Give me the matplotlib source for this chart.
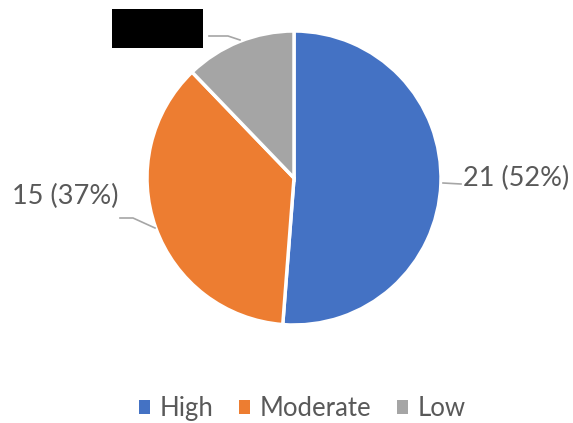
import matplotlib.pyplot as plt
from matplotlib.patches import Patch, Rectangle

# data
categories = ['High', 'Moderate', 'Low']
counts = [21, 15, 5]
label_text = ['21 (52%)', '15 (37%)', '']
colors = ['#4472C4', '#ED7D31', '#A5A5A5']

plt.rcParams['font.family'] = ['Lato', 'DejaVu Sans']
txt_color = '#595959'
line_color = '#A6A6A6'

fig = plt.figure(figsize=(5.73, 4.23), dpi=100)
ax = fig.add_axes([0, 0, 1, 1])

H = 423
wedges, _ = ax.pie(counts, colors=colors, startangle=90, counterclock=False,
                   center=(294, H - 178), radius=147, frame=True,
                   wedgeprops=dict(edgecolor='white', linewidth=2.5))
ax.set_xlim(0, 573)
ax.set_ylim(0, 423)
ax.set_aspect('equal')
ax.axis('off')

# data labels with leader lines
ax.plot([443, 461], [H - 183, H - 184], color=line_color, lw=1.2)
ax.text(463, H - 178, label_text[0], fontsize=19.5, color=txt_color, va='center', ha='left')

ax.plot([155, 133, 120], [H - 228, H - 218, H - 218], color=line_color, lw=1.2)
ax.text(118, H - 196, label_text[1], fontsize=19.5, color=txt_color, va='center', ha='right')

# low label is blacked out in the original
ax.plot([240, 228, 209], [H - 40, H - 36, H - 36], color=line_color, lw=1.2)
ax.add_patch(Rectangle((112, H - 48), 91, 39, facecolor='black', edgecolor='none'))

handles = [Patch(facecolor=c, edgecolor='none') for c in colors]
fig.legend(handles, categories, loc='center', bbox_to_anchor=(0.527, 0.034), ncol=3,
           frameon=False, fontsize=18.5, labelcolor=txt_color, handlelength=0.45,
           handleheight=0.45, handletextpad=0.35, columnspacing=1.0)

fig.savefig('out.png', dpi=100)
